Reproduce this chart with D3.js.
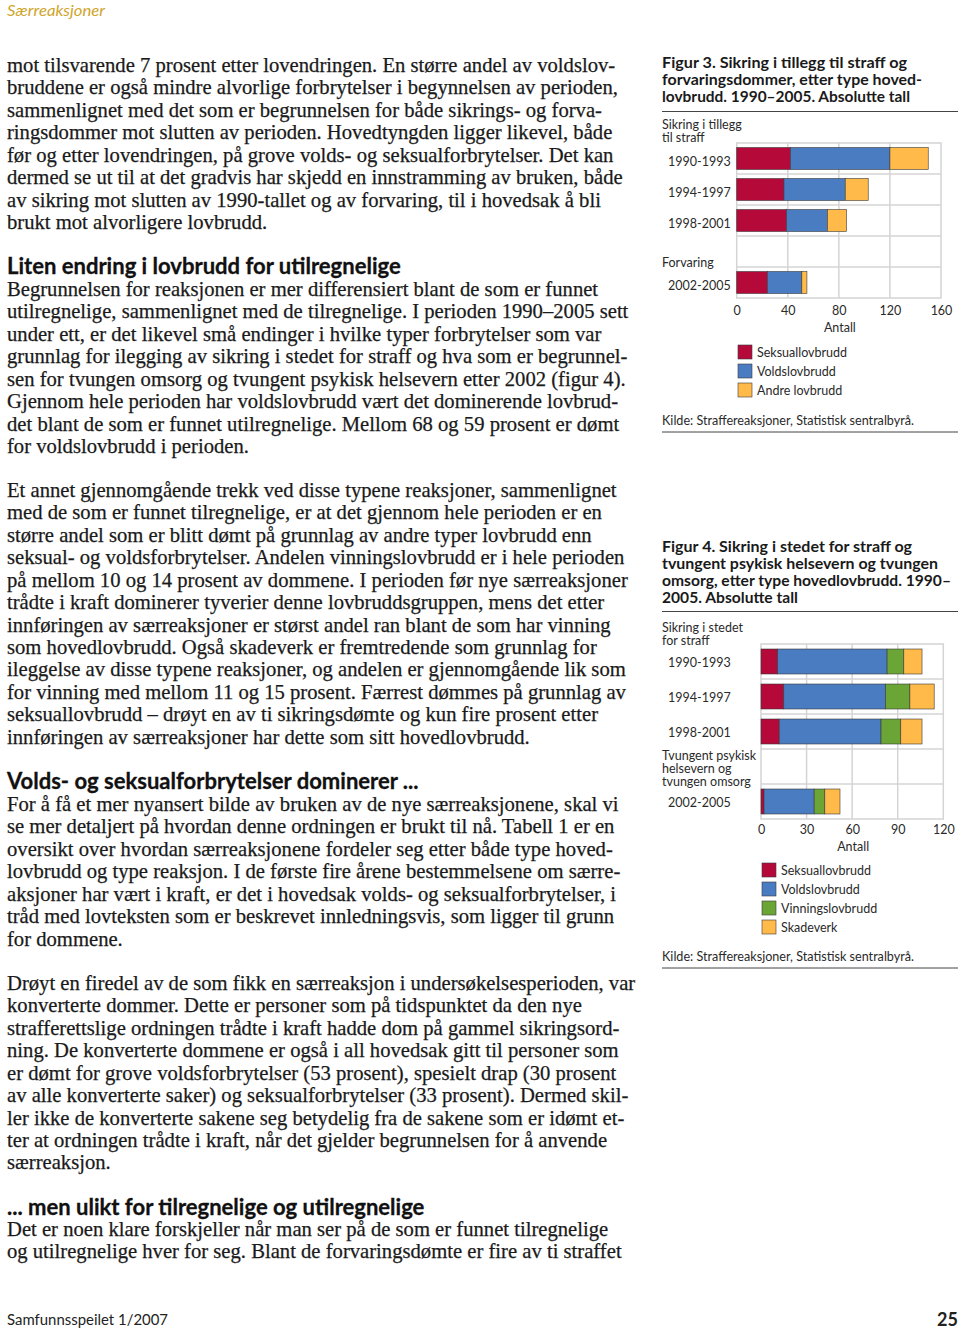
<!DOCTYPE html>
<html><head><meta charset="utf-8">
<script src="https://cdn.jsdelivr.net/npm/d3@7"></script>
<style>body{margin:0;background:#fff} svg{display:block}</style>
</head><body><svg id="page" width="960" height="1329"></svg>
<script>
// ---------------- DATA ----------------
const fig3Periods = ["1990-1993", "1994-1997", "1998-2001", "2002-2005"];
const fig3Seksual = [42, 37, 39, 24];
const fig3Volds   = [78, 48, 32, 27];
const fig3Andre   = [30, 18, 15, 4];
const fig3Series  = ["Seksuallovbrudd", "Voldslovbrudd", "Andre lovbrudd"];
const fig3Ticks   = [0, 40, 80, 120, 160];

const fig4Periods  = ["1990-1993", "1994-1997", "1998-2001", "2002-2005"];
const fig4Seksual  = [11, 15, 12, 2];
const fig4Volds    = [72, 67, 67, 33];
const fig4Vinning  = [11, 16, 13, 7];
const fig4Skade    = [12, 16, 14, 10];
const fig4Series   = ["Seksuallovbrudd", "Voldslovbrudd", "Vinningslovbrudd", "Skadeverk"];
const fig4Ticks    = [0, 30, 60, 90, 120];

const colors = {
  "Seksuallovbrudd": "#b5093a",
  "Voldslovbrudd": "#4a7cc2",
  "Andre lovbrudd": "#ffba4a",
  "Vinningslovbrudd": "#6aa535",
  "Skadeverk": "#ffba4a"
};

// ---------------- PAGE TEXT ----------------
const para1 = [
"mot tilsvarende 7 prosent etter lovendringen. En større andel av voldslov-",
"bruddene er også mindre alvorlige forbrytelser i begynnelsen av perioden,",
"sammenlignet med det som er begrunnelsen for både sikrings- og forva-",
"ringsdommer mot slutten av perioden. Hovedtyngden ligger likevel, både",
"før og etter lovendringen, på grove volds- og seksualforbrytelser. Det kan",
"dermed se ut til at det gradvis har skjedd en innstramming av bruken, både",
"av sikring mot slutten av 1990-tallet og av forvaring, til i hovedsak å bli",
"brukt mot alvorligere lovbrudd."];
const head1 = "Liten endring i lovbrudd for utilregnelige";
const para2 = [
"Begrunnelsen for reaksjonen er mer differensiert blant de som er funnet",
"utilregnelige, sammenlignet med de tilregnelige. I perioden 1990–2005 sett",
"under ett, er det likevel små endinger i hvilke typer forbrytelser som var",
"grunnlag for ilegging av sikring i stedet for straff og hva som er begrunnel-",
"sen for tvungen omsorg og tvungent psykisk helsevern etter 2002 (figur 4).",
"Gjennom hele perioden har voldslovbrudd vært det dominerende lovbrud-",
"det blant de som er funnet utilregnelige. Mellom 68 og 59 prosent er dømt",
"for voldslovbrudd i perioden."];
const para3 = [
"Et annet gjennomgående trekk ved disse typene reaksjoner, sammenlignet",
"med de som er funnet tilregnelige, er at det gjennom hele perioden er en",
"større andel som er blitt dømt på grunnlag av andre typer lovbrudd enn",
"seksual- og voldsforbrytelser. Andelen vinningslovbrudd er i hele perioden",
"på mellom 10 og 14 prosent av dommene. I perioden før nye særreaksjoner",
"trådte i kraft dominerer tyverier denne lovbruddsgruppen, mens det etter",
"innføringen av særreaksjoner er størst andel ran blant de som har vinning",
"som hovedlovbrudd. Også skadeverk er fremtredende som grunnlag for",
"ileggelse av disse typene reaksjoner, og andelen er gjennomgående lik som",
"for vinning med mellom 11 og 15 prosent. Færrest dømmes på grunnlag av",
"seksuallovbrudd – drøyt en av ti sikringsdømte og kun fire prosent etter",
"innføringen av særreaksjoner har dette som sitt hovedlovbrudd."];
const head2 = "Volds- og seksualforbrytelser dominerer ...";
const para4 = [
"For å få et mer nyansert bilde av bruken av de nye særreaksjonene, skal vi",
"se mer detaljert på hvordan denne ordningen er brukt til nå. Tabell 1 er en",
"oversikt over hvordan særreaksjonene fordeler seg etter både type hoved-",
"lovbrudd og type reaksjon. I de første fire årene bestemmelsene om særre-",
"aksjoner har vært i kraft, er det i hovedsak volds- og seksualforbrytelser, i",
"tråd med lovteksten som er beskrevet innledningsvis, som ligger til grunn",
"for dommene."];
const para5 = [
"Drøyt en firedel av de som fikk en særreaksjon i undersøkelsesperioden, var",
"konverterte dommer. Dette er personer som på tidspunktet da den nye",
"strafferettslige ordningen trådte i kraft hadde dom på gammel sikringsord-",
"ning. De konverterte dommene er også i all hovedsak gitt til personer som",
"er dømt for grove voldsforbrytelser (53 prosent), spesielt drap (30 prosent",
"av alle konverterte saker) og seksualforbrytelser (33 prosent). Dermed skil-",
"ler ikke de konverterte sakene seg betydelig fra de sakene som er idømt et-",
"ter at ordningen trådte i kraft, når det gjelder begrunnelsen for å anvende",
"særreaksjon."];
const head3 = "...  men ulikt for tilregnelige og utilregnelige";
const para6 = [
"Det er noen klare forskjeller når man ser på de som er funnet tilregnelige",
"og utilregnelige hver for seg. Blant de forvaringsdømte er fire av ti straffet"];

// ---------------- DRAW ----------------
const svg = d3.select("#page");
const SERIF = "'Liberation Serif','Times New Roman',serif";
const SANS = "Lato,'Open Sans','DejaVu Sans',sans-serif";
const txtColor = "#1a1a1a";

// Fit body font size from a reference line
const probe = svg.append("text").attr("font-family", SERIF).attr("font-size", 20).text(para1[5]);
const w20 = probe.node().getComputedTextLength();
probe.remove();
const bodySize = 20 * 616 / w20;

const probeH = svg.append("text").attr("font-family", SANS).attr("font-weight", 700).attr("font-size", 20).text(head1);
const wh20 = probeH.node().getComputedTextLength();
probeH.remove();
const headSize = 20 * 394 / wh20;

const LS = 22.42;
function para(lines, y0) {
  svg.append("g").selectAll("text").data(lines).join("text")
    .attr("x", 7).attr("y", (d, i) => y0 + i * LS)
    .attr("font-family", SERIF).attr("font-size", bodySize).attr("fill", txtColor)
    .attr("stroke", txtColor).attr("stroke-width", 0.25)
    .text(d => d);
}
function heading(t, y) {
  svg.append("text").attr("x", 7).attr("y", y)
    .attr("font-family", SANS).attr("font-weight", 700).attr("font-size", headSize)
    .attr("fill", "#111").attr("stroke", "#111").attr("stroke-width", 0.3).text(t);
}
para(para1, 72);
heading(head1, 274);
para(para2, 296);
para(para3, 497);
heading(head2, 789);
para(para4, 811);
para(para5, 990);
heading(head3, 1215);
para(para6, 1236);

// header / footer
svg.append("text").attr("x", 7).attr("y", 16)
  .attr("font-family", SANS).attr("font-style", "italic").attr("font-size", 14.5)
  .attr("fill", "#d0a52a").attr("textLength", 98).attr("lengthAdjust", "spacingAndGlyphs")
  .text("Særreaksjoner");
svg.append("text").attr("x", 7).attr("y", 1325)
  .attr("font-family", SANS).attr("font-size", 14.5).attr("fill", "#222")
  .attr("textLength", 161).attr("lengthAdjust", "spacingAndGlyphs")
  .text("Samfunnsspeilet 1/2007");
svg.append("text").attr("x", 958).attr("y", 1326).attr("text-anchor", "end")
  .attr("font-family", SANS).attr("font-weight", 700).attr("font-size", 18).attr("fill", "#222")
  .text("25");

// ---------------- CHARTS ----------------
function drawChart(cfg) {
  const g = svg.append("g");
  const CT = "#2a2a2a";
  // title
  g.selectAll("text.title").data(cfg.title).join("text")
    .attr("class", "title")
    .attr("x", 662).attr("y", (d, i) => cfg.titleY + i * 17)
    .attr("font-family", SANS).attr("font-weight", 700).attr("font-size", 14.5)
    .attr("fill", "#1a1a1a")
    .attr("textLength", d => d[1]).attr("lengthAdjust", "spacingAndGlyphs")
    .text(d => d[0]);
  g.append("line").attr("x1", 662).attr("x2", 958).attr("y1", cfg.ruleY).attr("y2", cfg.ruleY)
    .attr("stroke", "#444").attr("stroke-width", 1);

  const rows = [cfg.periods[0], cfg.periods[1], cfg.periods[2], "gap", cfg.periods[3]];
  const x = d3.scaleLinear().domain([0, cfg.max]).range([cfg.x0, cfg.x1]);
  const y = d3.scaleBand().domain(rows).range([cfg.y0, cfg.y1]).paddingInner(cfg.pad).paddingOuter(cfg.pad / 2);
  const step = y.step();

  // grid
  const grid = g.append("g").attr("stroke", "#d4d4d4").attr("stroke-width", 1.5).attr("fill", "none");
  grid.append("rect").attr("x", cfg.x0).attr("y", cfg.y0).attr("width", cfg.x1 - cfg.x0).attr("height", cfg.y1 - cfg.y0);
  grid.selectAll("line.v").data(cfg.ticks.slice(1, -1)).join("line")
    .attr("x1", d => x(d)).attr("x2", d => x(d)).attr("y1", cfg.y0).attr("y2", cfg.y1);
  grid.selectAll("line.h").data(rows.slice(1)).join("line")
    .attr("x1", cfg.x0).attr("x2", cfg.x1)
    .attr("y1", d => y(d) - step * cfg.pad / 2).attr("y2", d => y(d) - step * cfg.pad / 2);

  // stacked bars
  const table = cfg.periods.map((p, i) => {
    const o = { period: p };
    cfg.series.forEach((s, j) => o[s] = cfg.values[j][i]);
    return o;
  });
  const stacked = d3.stack().keys(cfg.series)(table);
  g.append("g").selectAll("g").data(stacked).join("g")
    .attr("fill", d => colors[d.key])
    .selectAll("rect").data(d => d).join("rect")
    .attr("x", d => x(d[0])).attr("width", d => x(d[1]) - x(d[0]))
    .attr("y", d => y(d.data.period)).attr("height", y.bandwidth())
    .attr("stroke", "#3a3a3a").attr("stroke-width", 0.6);

  // category labels
  const lab = g.append("g").attr("font-family", SANS).attr("font-size", 12.5).attr("fill", CT);
  cfg.periods.forEach(p => {
    lab.append("text").attr("x", 668).attr("y", y(p) + y.bandwidth() / 2 + 4.5 + cfg.labelDy).text(p);
  });
  cfg.groupLabels.forEach(gl => {
    gl.lines.forEach((t, i) => {
      lab.append("text").attr("x", 662).attr("y", gl.y + i * 13.2 + 4.5).text(t);
    });
  });

  // x axis ticks
  const axis = d3.axisBottom(x).tickValues(cfg.ticks).tickSize(0).tickPadding(0);
  const ax = g.append("g").attr("transform", `translate(0,${cfg.y1})`).call(axis);
  ax.select(".domain").remove();
  ax.selectAll("text").attr("font-family", SANS).attr("font-size", 12.5).attr("fill", CT)
    .attr("dy", null).attr("y", cfg.tickY - cfg.y1 + 4.5);
  g.append("text").attr("x", (cfg.x0 + cfg.x1) / 2 + 1).attr("y", cfg.tickY + 21.5)
    .attr("text-anchor", "middle").attr("font-family", SANS).attr("font-size", 12.5).attr("fill", CT)
    .text("Antall");

  // legend
  const leg = g.append("g").selectAll("g").data(cfg.series).join("g")
    .attr("transform", (d, i) => `translate(${cfg.legX},${cfg.legY + i * 19})`);
  leg.append("rect").attr("x", 0).attr("y", -7).attr("width", 14).attr("height", 14)
    .attr("fill", d => colors[d]).attr("stroke", "#3a3a3a").attr("stroke-width", 0.6);
  leg.append("text").attr("x", 19).attr("y", 4.5)
    .attr("font-family", SANS).attr("font-size", 12.5).attr("fill", CT).text(d => d);

  // source
  g.append("text").attr("x", 662).attr("y", cfg.kildeY + 4.5)
    .attr("font-family", SANS).attr("font-size", 12.5).attr("fill", CT)
    .attr("textLength", 252).attr("lengthAdjust", "spacingAndGlyphs")
    .text("Kilde: Straffereaksjoner, Statistisk sentralbyrå.");
  g.append("line").attr("x1", 662).attr("x2", 958).attr("y1", cfg.kildeY + 12).attr("y2", cfg.kildeY + 12)
    .attr("stroke", "#444").attr("stroke-width", 1);
}

drawChart({
  title: [["Figur 3. Sikring i tillegg til straff og", 245],
          ["forvaringsdommer, etter type hoved-", 260],
          ["lovbrudd. 1990–2005. Absolutte tall", 248]],
  titleY: 68, ruleY: 111.5,
  periods: fig3Periods, series: fig3Series,
  values: [fig3Seksual, fig3Volds, fig3Andre],
  max: 160, ticks: fig3Ticks,
  x0: 736.7, x1: 941, y0: 143, y1: 298, pad: 0.29, labelDy: 2.5,
  groupLabels: [{ lines: ["Sikring i tillegg", "til straff"], y: 124.5 },
                { lines: ["Forvaring"], y: 262 }],
  tickY: 310, legX: 738, legY: 352, kildeY: 420
});

drawChart({
  title: [["Figur 4. Sikring i stedet for straff og", 250],
          ["tvungent psykisk helsevern og tvungen", 276],
          ["omsorg, etter type hovedlovbrudd. 1990–", 289],
          ["2005. Absolutte tall", 136]],
  titleY: 552, ruleY: 611.5,
  periods: fig4Periods, series: fig4Series,
  values: [fig4Seksual, fig4Volds, fig4Vinning, fig4Skade],
  max: 120, ticks: fig4Ticks,
  x0: 761, x1: 943.3, y0: 644, y1: 819, pad: 0.286, labelDy: 0.5,
  groupLabels: [{ lines: ["Sikring i stedet", "for straff"], y: 627 },
                { lines: ["Tvungent psykisk", "helsevern og", "tvungen omsorg"], y: 755 }],
  tickY: 829, legX: 762, legY: 870, kildeY: 956
});
</script>
</body></html>
